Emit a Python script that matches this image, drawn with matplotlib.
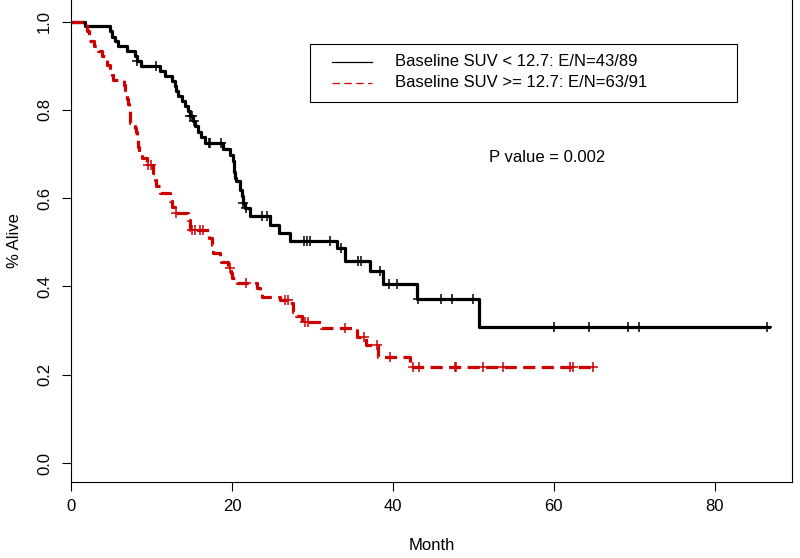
from matplotlib import pyplot as plt
from matplotlib.lines import Line2D
from matplotlib.patches import Rectangle
import numpy as np

plt.rcParams['font.family'] = ['Liberation Sans', 'DejaVu Sans']

# Kaplan-Meier step data (month, survival after the drop)
low_times = [0, 1.7, 4.8, 5.1, 5.5, 5.9, 6.9, 7.9, 8.2, 8.7, 11.0, 11.7, 12.5,
             12.9, 13.1, 13.3, 13.8, 14.2, 14.5, 14.8, 15.2, 15.4, 15.8, 16.1,
             16.6, 18.9, 19.8, 20.1, 20.2, 20.3, 20.4, 20.5, 21.0, 21.2, 21.4,
             21.6, 22.2, 24.7, 25.8, 27.2, 33.0, 34.0, 37.1, 38.8, 43.0, 50.7]
low_surv = [1.0, 0.989, 0.978, 0.966, 0.955, 0.944, 0.933, 0.921, 0.910, 0.899,
            0.888, 0.876, 0.865, 0.854, 0.843, 0.831, 0.820, 0.809, 0.798,
            0.787, 0.775, 0.764, 0.750, 0.738, 0.725, 0.712, 0.698, 0.685,
            0.672, 0.659, 0.646, 0.638, 0.619, 0.604, 0.590, 0.577, 0.559,
            0.540, 0.521, 0.502, 0.487, 0.458, 0.434, 0.405, 0.371, 0.309]
low_end = 86.8
low_censor = [8.2, 10.6, 14.8, 15.0, 15.3, 17.1, 17.3, 18.7, 21.4, 21.8, 23.7,
              24.3, 28.9, 29.3, 29.7, 32.2, 33.6, 35.7, 36.1, 38.4, 39.5, 40.5,
              43.1, 46.0, 47.4, 49.9, 60.0, 64.4, 69.2, 70.6, 86.5]

high_times = [0, 1.8, 2.0, 2.2, 2.8, 3.4, 3.8, 4.2, 4.5, 4.85, 5.05, 5.25, 6.6,
              6.7, 6.9, 7.0, 7.1, 7.2, 7.3, 8.0, 8.1, 8.2, 8.3, 8.35, 8.4, 8.8,
              9.4, 10.2, 10.4, 10.6, 11.05, 12.3, 12.6, 12.9, 14.6, 14.8, 17.1,
              17.5, 17.7, 18.5, 18.7, 19.5, 19.9, 20.0, 20.6, 23.1, 23.5, 23.7,
              26.0, 27.2, 27.6, 28.0, 28.7, 31.1, 35.5, 36.7, 38.2, 42.1]
high_surv = [1.0, 0.989, 0.978, 0.956, 0.945, 0.934, 0.923, 0.912, 0.901,
             0.890, 0.879, 0.868, 0.857, 0.846, 0.835, 0.824, 0.813, 0.802,
             0.771, 0.760, 0.749, 0.738, 0.727, 0.716, 0.705, 0.690, 0.676,
             0.657, 0.642, 0.627, 0.612, 0.593, 0.580, 0.566, 0.551, 0.528,
             0.510, 0.494, 0.475, 0.466, 0.456, 0.441, 0.430, 0.419, 0.407,
             0.396, 0.388, 0.377, 0.370, 0.362, 0.343, 0.332, 0.320, 0.305,
             0.286, 0.268, 0.241, 0.218]
high_end = 65.3
high_censor = [9.6, 10.0, 13.1, 15.0, 15.4, 16.0, 16.4, 19.75, 21.8, 26.6, 27.0,
               29.1, 29.5, 34.0, 36.4, 38.0, 39.6, 42.5, 43.2, 47.7, 47.9, 51.2,
               53.7, 62.0, 62.4, 64.9]

legend_labels = ["Baseline SUV < 12.7: E/N=43/89",
                 "Baseline SUV >= 12.7: E/N=63/91"]
red = "#CC0000"


def km(ax, times, surv, end, censor, **kw):
    t = np.array(times + [end])
    s = np.array(surv + [surv[-1]])
    ax.step(t, s, where='post', **kw)
    idx = np.searchsorted(times, censor, side='right') - 1
    cs = np.array(surv)[idx]
    ax.plot(censor, cs, linestyle='none', marker='+', markersize=7.5,
            markeredgewidth=1.1, color=kw['color'])


fig = plt.figure(figsize=(8, 5.58), dpi=100)
ax = fig.add_axes([71 / 800, 1 - 482 / 558, (792 - 71) / 800, 482 / 558])

km(ax, low_times, low_surv, low_end, low_censor, color='black', lw=2.3)
km(ax, high_times, high_surv, high_end, high_censor, color=red, lw=2.3,
   dashes=(3.8, 2.0))

ax.set_xlim(0, 89.6)
ax.set_ylim(-0.043, 1.049)
ax.set_xticks([0, 20, 40, 60, 80])
ax.set_yticks([0.0, 0.2, 0.4, 0.6, 0.8, 1.0])
ax.set_yticklabels(["0.0", "0.2", "0.4", "0.6", "0.8", "1.0"],
                   rotation=90, va='center')
ax.tick_params(direction='out', length=6.5, width=0.8, labelsize=12)
ax.tick_params(axis='x', pad=6)
ax.tick_params(axis='y', pad=7)
ax.spines['top'].set_visible(False)
for sp in ['left', 'bottom', 'right']:
    ax.spines[sp].set_linewidth(0.8)

ax.set_xlabel("Month", fontsize=12, labelpad=17)
ax.set_ylabel("% Alive", fontsize=12, labelpad=11)

# legend box drawn by hand to keep R's wide padding
fig.patches.append(Rectangle((310 / 800, 1 - 102 / 558), 427 / 800, 58 / 558,
                             transform=fig.transFigure, fill=False,
                             edgecolor='black', lw=0.8))
fig.lines.append(Line2D([332 / 800, 372 / 800], [1 - 61.7 / 558] * 2,
                        transform=fig.transFigure, color='black', lw=0.9))
fig.lines.append(Line2D([332 / 800, 372 / 800], [1 - 82.7 / 558] * 2,
                        transform=fig.transFigure, color=red, lw=0.9,
                        dashes=(6, 3.5)))
fig.text(395 / 800, 1 - 61.7 / 558, legend_labels[0], fontsize=12, va='center')
fig.text(395 / 800, 1 - 82.7 / 558, legend_labels[1], fontsize=12, va='center')

ax.text(547 / 800, 1 - 157 / 558, "P value = 0.002", fontsize=12,
        ha='center', va='center', transform=fig.transFigure)

plt.savefig("out.png", dpi=100)
